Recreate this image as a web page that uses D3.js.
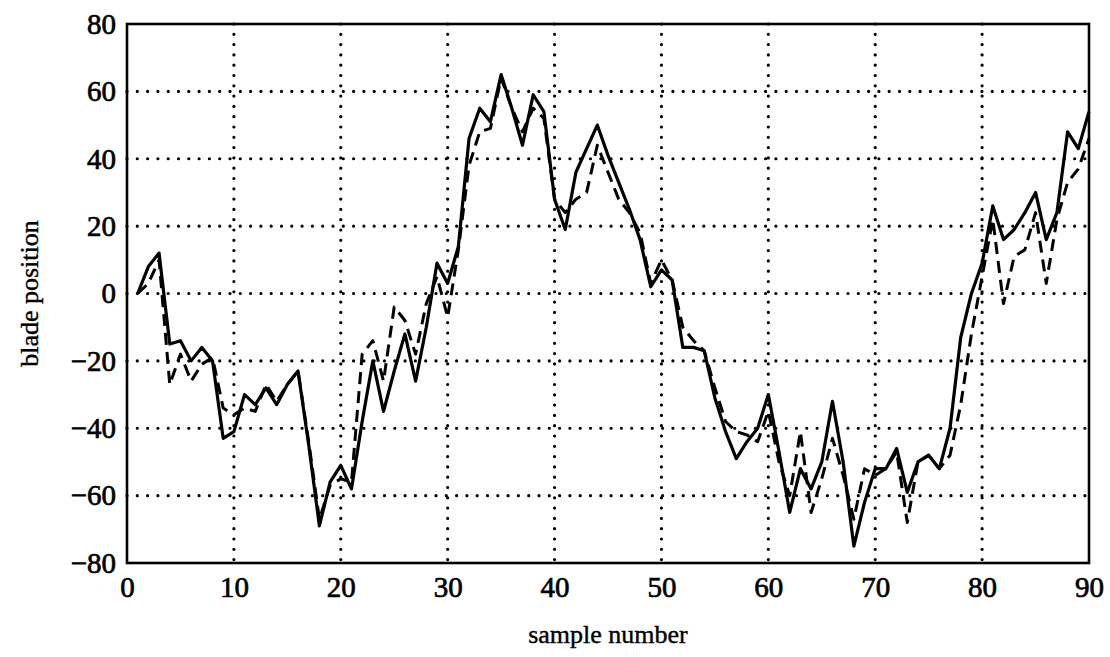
<!DOCTYPE html>
<html>
<head>
<meta charset="utf-8">
<script src="https://cdn.jsdelivr.net/npm/d3@7"></script>
<style>
  body { margin: 0; background: #fff; }
  text { font-family: "Liberation Serif", "Times New Roman", serif; fill: #000; }
</style>
</head>
<body>
<div id="G"></div>
<script>
// sample numbers 1..90
var samples = d3.range(1, 91);

// measured blade position (solid)
var actual = [0, 8, 12, -15, -14, -20, -16, -20, -43, -41,
  -30, -33, -28, -33, -27, -23, -45, -69, -56, -51,
  -58, -38, -20, -35, -23, -12, -26, -10, 9, 3,
  14, 46, 55, 51, 65, 55, 44, 59, 54, 28,
  19, 36, 43, 50, 41, 33, 25, 16, 2, 7,
  4, -16, -16, -17, -31, -41, -49, -44, -40, -30,
  -47, -65, -52, -58, -50, -32, -50, -75, -62, -52,
  -52, -46, -59, -50, -48, -52, -40, -13, 0, 9,
  26, 16, 19, 24, 30, 16, 24, 48, 43, 54];

// predicted blade position (dashed)
var predicted = [0, 3, 10, -27, -18, -26, -21, -19, -34, -36,
  -34, -35, -27, -32, -27, -23, -44, -67, -57, -55,
  -56, -18, -14, -26, -4, -8, -18, -3, 5, -7,
  13, 38, 48, 49, 64, 55, 48, 55, 52, 28,
  24, 28, 30, 44, 36, 28, 24, 18, 3, 10,
  4, -10, -14, -17, -28, -38, -41, -42, -44, -35,
  -50, -60, -41, -65, -55, -43, -54, -67, -52, -54,
  -52, -47, -68, -50, -48, -52, -48, -33, -12, 5,
  22, -3, 11, 13, 24, 3, 22, 33, 37, 46];

var xTicks = [0, 10, 20, 30, 40, 50, 60, 70, 80, 90];
var yTicks = [-80, -60, -40, -20, 0, 20, 40, 60, 80];

var Border = { top: 24, right: 21, bottom: 94, left: 127 },
  width = 1110 - Border.left - Border.right,
  height = 657 - Border.top - Border.bottom;

var svg = d3.select("#G")
  .append("svg")
  .attr("width", 1110)
  .attr("height", 657);

var g = svg.append("g")
  .attr("transform", "translate(" + Border.left + "," + Border.top + ")");

var x = d3.scaleLinear().domain([0, 90]).range([0, width]);
var y = d3.scaleLinear().domain([-80, 80]).range([height, 0]);

// dotted grid
g.append("g")
  .selectAll("line")
  .data(xTicks.slice(1, -1))
  .join("line")
  .attr("x1", d => x(d)).attr("x2", d => x(d))
  .attr("y1", 0).attr("y2", height)
  .attr("stroke", "#000")
  .attr("stroke-width", 3.2)
  .attr("stroke-linecap", "round")
  .attr("stroke-dasharray", "0,10.3");

g.append("g")
  .selectAll("line")
  .data(yTicks.slice(1, -1))
  .join("line")
  .attr("x1", 0).attr("x2", width)
  .attr("y1", d => y(d)).attr("y2", d => y(d))
  .attr("stroke", "#000")
  .attr("stroke-width", 3.2)
  .attr("stroke-linecap", "round")
  .attr("stroke-dasharray", "0,10.3");

// axes (labels only, frame drawn separately)
var xAxis = g.append("g")
  .attr("transform", "translate(0," + height + ")")
  .call(d3.axisBottom(x).tickValues(xTicks).tickSize(0).tickPadding(13));
var yAxis = g.append("g")
  .call(d3.axisLeft(y).tickValues(yTicks).tickSize(0).tickPadding(11));

[xAxis, yAxis].forEach(function (a) {
  a.select(".domain").remove();
  a.selectAll("text")
    .attr("font-family", "Liberation Serif, Times New Roman, serif")
    .attr("font-size", 29)
    .attr("fill", "#000")
    .attr("stroke", "#000")
    .attr("stroke-width", 0.7);
});

// lines
var line = d3.line()
  .x(function (d, i) { return x(samples[i]) })
  .y(function (d) { return y(d) });

g.append("path")
  .datum(predicted)
  .attr("fill", "none")
  .attr("stroke", "#000")
  .attr("stroke-width", 3)
  .attr("stroke-dasharray", "12,7")
  .attr("stroke-linejoin", "round")
  .attr("d", line);

g.append("path")
  .datum(actual)
  .attr("fill", "none")
  .attr("stroke", "#000")
  .attr("stroke-width", 3.2)
  .attr("stroke-linejoin", "round")
  .attr("d", line);

// frame
g.append("rect")
  .attr("x", 0).attr("y", 0)
  .attr("width", width).attr("height", height)
  .attr("fill", "none")
  .attr("stroke", "#000")
  .attr("stroke-width", 2.6);

// axis titles
svg.append("text")
  .attr("x", Border.left + width / 2)
  .attr("y", 643)
  .attr("text-anchor", "middle")
  .attr("font-size", 26)
  .attr("stroke", "#000")
  .attr("stroke-width", 0.4)
  .text("sample number");

svg.append("text")
  .attr("transform", "translate(38," + (Border.top + height / 2) + ") rotate(-90)")
  .attr("text-anchor", "middle")
  .attr("font-size", 26)
  .attr("stroke", "#000")
  .attr("stroke-width", 0.4)
  .text("blade position");
</script>
</body>
</html>
